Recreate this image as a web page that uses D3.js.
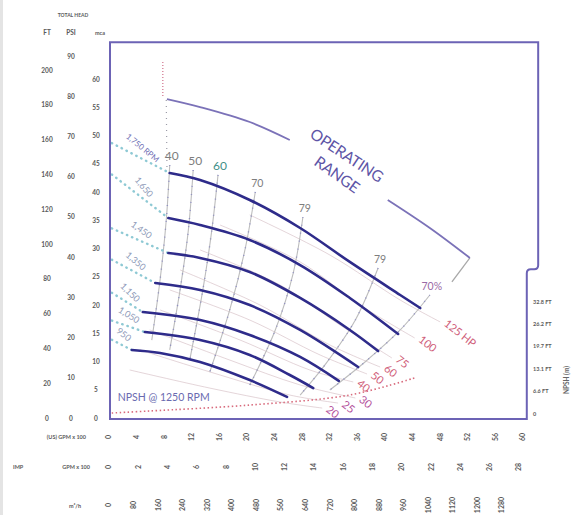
<!DOCTYPE html>
<html><head><meta charset="utf-8">
<script src="https://cdn.jsdelivr.net/npm/d3@7"></script>
<style>body{margin:0;background:#fff} svg{display:block}</style>
</head><body><svg id="c" width="575" height="515"></svg>
<script>
// ---------- DATA (flow in US GPM x100, head in ft, NPSH in m) ----------
const rpmLabels = ["1,750 RPM","1,650","1,450","1,350","1,150","1,050","950"];
const curve1750 = [[8.8,140.8],[13.2,136.8],[20.4,125.3],[27.7,109.2],[34.9,89.7],[42.2,70.7],[45.1,63.2]];
const curve1650 = [[8.6,114.9],[13.2,110.9],[20.4,102.3],[27.7,87.9],[34.9,69.0],[41.9,48.3]];
const curve1450 = [[8.6,94.8],[13.2,92.0],[20.4,83.9],[27.7,69.0],[34.9,50.6],[39.0,38.5]];
const curve1350 = [[6.7,77.6],[13.2,73.6],[20.4,64.9],[27.7,50.6],[36.1,29.3]];
const curve1150 = [[4.9,60.9],[13.2,56.3],[20.4,47.7],[27.7,35.1],[33.3,21.3]];
const curve1050 = [[5.2,49.4],[13.2,44.8],[20.4,36.2],[26.2,24.7],[29.6,17.2]];
const curve950  = [[3.3,39.1],[7.4,37.4],[13.2,32.2],[20.4,21.8],[25.8,12.1]];
const headCurves = [curve1750,curve1650,curve1450,curve1350,curve1150,curve1050,curve950];
const shutoffFlow = 0.4;
const shutoffHeads = [158,140,109,91,72,56,45];

const effLabels = ["40","50","60","70","79","79","70%"];
const eff40  = [[8.8,145.4],[8.3,113.8],[7.4,79.3],[6.2,44.8]];
const eff50  = [[12.2,142.5],[11.5,108.0],[10.3,73.6],[8.8,39.1]];
const eff60  = [[15.8,139.7],[14.9,108.0],[13.6,73.6],[11.7,33.3]];
const eff70  = [[21.2,129.9],[19.7,96.6],[17.5,62.1],[14.6,26.4]];
const eff79a = [[28.1,115.5],[26.7,83.3],[24.1,50.6],[20.4,19.0]];
const eff79b = [[39.0,86.2],[35.7,56.3],[31.3,30.5],[27.7,13.2]];
const eff70b = [[46.5,70.7],[42.2,50.6],[37.1,32.2],[32.0,16.1]];
const effCurves = [eff40,eff50,eff60,eff70,eff79a,eff79b,eff70b];

const hpLabels = ["125 HP","100","75","60","50","40","30","25","20"];
const hp125 = [[20.4,116.7],[32.0,93.7],[42.2,67.8],[48.0,55.2]];
const hp100 = [[16.1,110.9],[27.7,89.7],[36.4,64.9],[44.3,46.0]];
const hp75  = [[13.2,96.6],[24.8,76.4],[33.5,53.4],[41.0,34.5]];
const hp60  = [[10.3,85.1],[21.9,64.9],[32.0,42.0],[39.3,29.3]];
const hp50  = [[8.8,73.6],[20.4,56.3],[30.6,36.2],[37.4,25.3]];
const hp40  = [[7.4,62.1],[19.0,44.8],[29.1,27.6],[35.4,20.7]];
const hp30  = [[5.9,50.6],[17.5,33.3],[27.7,19.0],[35.7,11.5]];
const hp25  = [[4.5,39.1],[16.1,24.7],[26.2,13.2],[33.2,8.6]];
const hp20  = [[3.0,27.6],[14.6,17.2],[24.8,9.2],[30.9,5.7]];
const hpCurves = [hp125,hp100,hp75,hp60,hp50,hp40,hp30,hp25,hp20];

const opRangeA = [[8.4,183.3],[13.2,178.7],[20.4,170.1],[26.2,159.8]];
const opRangeB = [[40.4,125.3],[46.5,109.2],[52.3,92.0]];
const envelope = [[52.3,92.0],[49.7,78.2]];
const minFlowRed = [[7.8,204.6],[7.8,184.5]];
const minFlowGrey = [[8.3,182.8],[8.4,143.7]];

const npsh1250 = [[0.4,0],[5.9,0.18],[20.4,0.71],[34.9,1.61],[44.3,3.13]];

const ftTicks  = [0,20,40,60,80,100,120,140,160,180,200];
const psiTicks = [0,10,20,30,40,50,60,70,80,90];
const mTicks   = [0,5,10,15,20,25,30,35,40,45,50,55,60];
const npshTicks = [0,2,4,6,8,10];
const npshTickLabels = ["0","6.6 FT","13.1 FT","19.7 FT","26.2 FT","32.8 FT"];
const usGpmTicks = [0,4,8,12,16,20,24,28,32,36,40,44,48,52,56,60];
const impGpmTicks = [0,2,4,6,8,10,12,14,16,18,20,22,24,26,28];
const m3hTicks = [0,80,160,240,320,400,480,560,640,720,800,880,960,1040,1120,1200,1280];

// ---------- SCALES ----------
const svg = d3.select("#c");
const x = d3.scaleLinear().domain([0,60]).range([109,523]);
const y = d3.scaleLinear().domain([0,200]).range([418,70]);
const yPsi = d3.scaleLinear().domain([0,90]).range([418,56]);
const yM = d3.scaleLinear().domain([0,60]).range([418,79]);
const yN = d3.scaleLinear().domain([0,10]).range([413,301]);
const xImp = d3.scaleLinear().domain([0,28]).range([109,519]);
const xM3 = d3.scaleLinear().domain([0,1280]).range([109,502]);

const line = d3.line().x(d=>x(d[0])).y(d=>y(d[1])).curve(d3.curveCatmullRom.alpha(0.5));
const straight = d3.line().x(d=>x(d[0])).y(d=>y(d[1]));
const npshLine = d3.line().x(d=>x(d[0])).y(d=>yN(d[1])).curve(d3.curveCatmullRom.alpha(0.5));

const F = "Lato, 'Open Sans', sans-serif";

// page edge shading like the scan
svg.append("rect").attr("x",0).attr("y",0).attr("width",3).attr("height",515).attr("fill","#e4e4e4");

// ---------- HP lines ----------
const gHp = svg.append("g");
hpCurves.forEach((c,i)=>{
  gHp.append("path").attr("d",line(c)).attr("fill","none")
    .attr("stroke","#cdb3b9").attr("stroke-width",1).attr("opacity",0.55);
  const e = c[c.length-1];
  gHp.append("text").attr("transform",`translate(${x(e[0])+3},${y(e[1])+3}) rotate(38)`)
    .attr("font-family",F).attr("font-size",11)
    .attr("fill", i>=6 ? "#b4529c" : "#d0607a").text(hpLabels[i]);
});

// ---------- efficiency lines ----------
const gEff = svg.append("g");
effCurves.forEach((c,i)=>{
  gEff.append("path").attr("d",line(c)).attr("fill","none")
    .attr("stroke","#bdbdbd").attr("stroke-width",1.1);
  gEff.append("path").attr("d",line(c)).attr("fill","none")
    .attr("stroke","#7070c0").attr("stroke-width",1.5).attr("stroke-dasharray","1,7").attr("opacity",0.6);
  const t = c[0];
  const col = i===2 ? "#3f8f88" : (i===6 ? "#9a6aa6" : "#7d7d7d");
  gEff.append("text").attr("x",x(t[0])+2).attr("y",y(t[1])-5)
    .attr("text-anchor","middle").attr("font-family",F)
    .attr("font-size", i<3 ? 12 : 10.5).attr("fill",col).text(effLabels[i]);
});
gEff.append("path").attr("d",straight(envelope)).attr("fill","none").attr("stroke","#a8a8a8").attr("stroke-width",1.3);

// ---------- NPSH ----------
svg.append("path").attr("d",npshLine(npsh1250)).attr("fill","none")
  .attr("stroke","#d86a7c").attr("stroke-width",1.6).attr("stroke-dasharray","1.5,2.5");
svg.append("text").attr("x",x(npsh1250[0][0])+6).attr("y",yN(npsh1250[0][1])-12)
  .attr("font-family",F).attr("font-size",10.5).attr("fill","#6a6ab0").text("NPSH @ 1250 RPM");

// ---------- operating range ----------
const opCol = "#7b72b8";
svg.append("path").attr("d",line(opRangeA)).attr("fill","none").attr("stroke",opCol).attr("stroke-width",1.8);
svg.append("path").attr("d",line(opRangeB)).attr("fill","none").attr("stroke",opCol).attr("stroke-width",1.8);
svg.append("path").attr("d",straight(minFlowRed)).attr("fill","none").attr("stroke","#d0708a").attr("stroke-width",1.2).attr("stroke-dasharray","1,2");
svg.append("path").attr("d",straight(minFlowGrey)).attr("fill","none").attr("stroke","#9a9aa6").attr("stroke-width",1.2).attr("stroke-dasharray","1,5");
{
  const a = opRangeA[opRangeA.length-1], b = opRangeB[0];
  const mx = (x(a[0])+x(b[0]))/2, my = (y(a[1])+y(b[1]))/2;
  const ang = Math.atan2(y(b[1])-y(a[1]), x(b[0])-x(a[0]))*180/Math.PI;
  svg.append("text").attr("transform",`translate(${mx+5},${my-10}) rotate(${ang+2})`)
    .attr("text-anchor","middle").attr("font-family",F).attr("font-size",15.5).attr("letter-spacing",-0.3)
    .attr("fill","#5e55a6").text("OPERATING");
  svg.append("text").attr("transform",`translate(${mx-5},${my+9}) rotate(${ang+4})`)
    .attr("text-anchor","middle").attr("font-family",F).attr("font-size",15.5).attr("letter-spacing",-0.3)
    .attr("fill","#5e55a6").text("RANGE");
}

// ---------- head curves + shutoff extensions ----------
const gH = svg.append("g");
headCurves.forEach((c,i)=>{
  const s = [shutoffFlow, shutoffHeads[i]];
  const st = c[0];
  gH.append("path").attr("d",straight([s,st])).attr("fill","none")
    .attr("stroke","#8ec9d4").attr("stroke-width",2.4).attr("stroke-linecap","round").attr("stroke-dasharray","0.5,5");
  gH.append("path").attr("d",line(c)).attr("fill","none")
    .attr("stroke","#2e2b8a").attr("stroke-width",2.6).attr("stroke-linecap","round");
  const x1=x(s[0]), y1=y(s[1]), x2=x(st[0]), y2=y(st[1]);
  const ang = Math.atan2(y2-y1,x2-x1);
  const mx=(x1+x2)/2, my=(y1+y2)/2;
  const ox = Math.sin(ang)*9, oy = -Math.cos(ang)*9;
  gH.append("text").attr("transform",`translate(${mx+ox-4},${my+oy}) rotate(${ang*180/Math.PI+12})`)
    .attr("text-anchor","middle").attr("font-family",F).attr("font-size", i===0?8:9)
    .attr("fill", i===0 ? "#6f6fb5" : "#8e9ab8").text(rpmLabels[i]);
});

// ---------- frame ----------
const L = x(0)+1, T = y(216), R = x(62.2), B = y(0)+1, NX = x(60.55), NY = y(85.5);
svg.append("path").attr("d",`M${L},${T}H${R}V${NY-4}Q${R},${NY} ${R-4},${NY}H${NX+4}Q${NX},${NY} ${NX},${NY+4}V${B}H${L}Z`)
  .attr("fill","none").attr("stroke","#6c63b5").attr("stroke-width",2);

// ---------- left axes ----------
const lab = (g,xx,yy,t,opt={})=>g.append("text").attr("x",xx).attr("y",yy)
  .attr("text-anchor",opt.anchor||"middle").attr("font-family",F).attr("font-weight","bold")
  .attr("font-size",opt.size||6.5).attr("fill",opt.fill||"#5a5a5a").text(t);
const gA = svg.append("g");
lab(gA,73,17,"TOTAL HEAD",{size:5});
lab(gA,47,35,"FT"); lab(gA,71,35,"PSI"); lab(gA,100,35,"mca",{size:5.5});
ftTicks.forEach(v=>lab(gA,47,y(v)+2.5,v));
psiTicks.forEach(v=>lab(gA,71,yPsi(v)+2.5,v));
mTicks.forEach(v=>lab(gA,96,yM(v)+2.5,v));

// ---------- right NPSH axis ----------
npshTicks.forEach((v,i)=>lab(gA,533,yN(v)+2.5,npshTickLabels[i],{anchor:"start",size:5.5}));
gA.append("text").attr("transform",`translate(569,366) rotate(-90)`).attr("text-anchor","end")
  .attr("font-family",F).attr("font-weight","bold").attr("font-size",6.5).attr("fill","#666").text("NPSH (m)");

// ---------- bottom flow rows ----------
const rot = (xx,yy,t)=>gA.append("text").attr("transform",`translate(${xx},${yy}) rotate(-90)`)
  .attr("text-anchor","middle").attr("dy","0.35em").attr("font-family",F).attr("font-weight","bold")
  .attr("font-size",7).attr("fill","#5a5a5a").text(t);
usGpmTicks.forEach(v=>rot(x(v),437,v));
impGpmTicks.forEach(v=>rot(xImp(v),467,v));
m3hTicks.forEach(v=>rot(xM3(v),505,v));
lab(gA,86,439,"(US) GPM x 100",{anchor:"end",size:5.5});
lab(gA,13,469,"IMP",{anchor:"start",size:5.5});
lab(gA,90,469,"GPM x 100",{anchor:"end",size:5.5});
lab(gA,81,508,"m³/h",{anchor:"end",size:5.5});
</script></body></html>
